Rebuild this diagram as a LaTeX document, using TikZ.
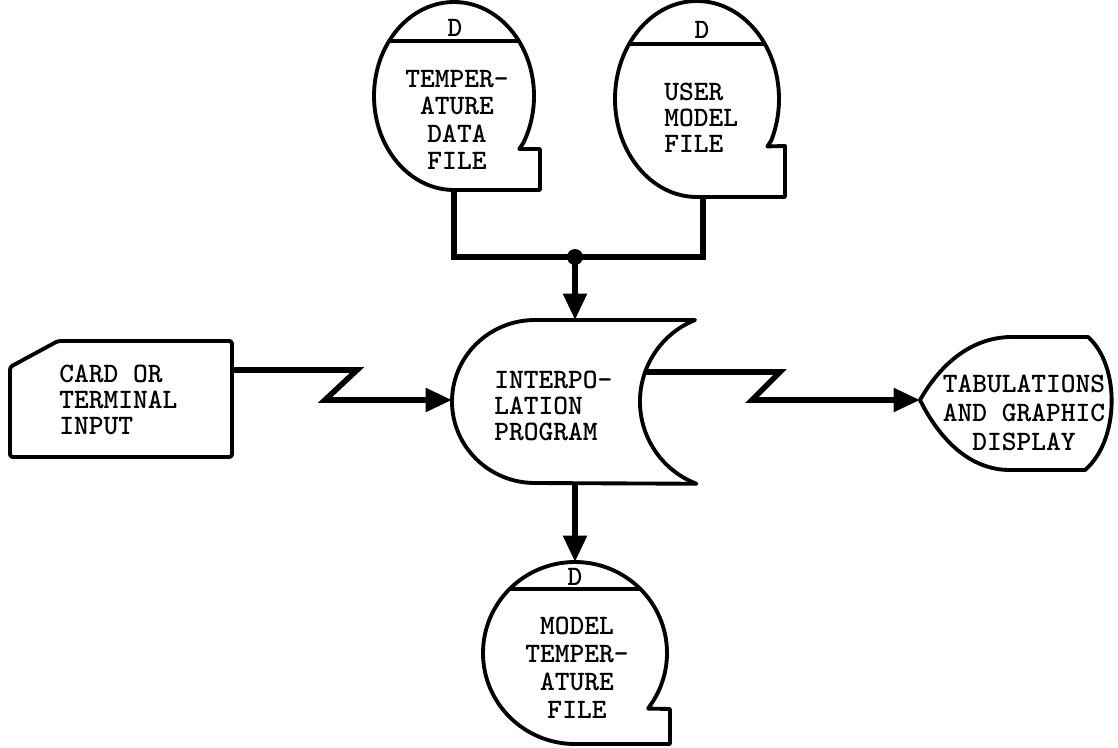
\documentclass[tikz,border=0pt]{standalone}
\usepackage{fontspec}
\newfontfamily\dfont{lmmonolt10-bold}[Extension=.otf]
\usetikzlibrary{arrows.meta}
\begin{document}
\begin{tikzpicture}[x=0.02cm,y=-0.02cm,
  outline/.style={line width=2.2pt, line join=round},
  flow/.style={line width=3.2pt, line join=miter},
  arr/.style={flow,-{Triangle[length=15pt,width=13pt]}},
  txt/.style={inner sep=0pt, font=\dfont\fontsize{16}{#1}\selectfont},
  txt/.default=15pt]
\fill[white] (0,0) rectangle (1118,747);
\useasboundingbox (0,0) rectangle (1118,747);

% anchor coordinates
\coordinate (tdfB) at (454,190);
\coordinate (umfB) at (703,197);
\coordinate (junc) at (575,257);
\coordinate (progN) at (575,320);
\coordinate (progS) at (575,483);
\coordinate (progW) at (452,400);
\coordinate (progE) at (645,372);
\coordinate (cardE) at (232,370);
\coordinate (dispW) at (920,400);
\coordinate (mtfN) at (575,562);

% top-left disk: temperature data file
\draw[outline] (454,190) arc[start angle=90,end angle=390,x radius=80,y radius=94]
  -- ++(-4,6) -- (540,149) -- (540,190) -- cycle;
\begin{scope}
  \clip (454,96) ellipse[x radius=80,y radius=94];
  \draw[outline] (300,41) -- (600,41);
\end{scope}
\node[txt] (tdfD) at (455,28) {D};
\node[txt=15.6pt, align=center] (tdfT) at (457,120) {TEMPER-\\ATURE\\DATA\\FILE};

% top-right disk: user model file
\draw[outline] (697,197) arc[start angle=90,end angle=385,x radius=82,y radius=98]
  -- ++(-4,6) -- (785,146) -- (785,197) -- cycle;
\begin{scope}
  \clip (697,99) ellipse[x radius=82,y radius=98];
  \draw[outline] (550,44) -- (850,44);
\end{scope}
\node[txt] (umfD) at (702,30) {D};
\node[txt=14.8pt, align=left, anchor=west] (umfT) at (664,118) {USER\\MODEL\\FILE};

% bottom disk: model temperature file
\draw[outline] (575,744) arc[start angle=90,end angle=393,x radius=92,y radius=91]
  -- ++(-4,6) -- (670,709) -- (670,744) -- cycle;
\begin{scope}
  \clip (575,653) ellipse[x radius=92,y radius=91];
  \draw[outline] (450,589) -- (700,589);
\end{scope}
\node[txt] (mtfD) at (575,577) {D};
\node[txt=16pt, align=center] (mtfT) at (577,668) {MODEL\\TEMPER-\\ATURE\\FILE};

% interpolation program
\draw[outline] (535,320) -- (695,320) arc[start angle=248,end angle=111,radius=88]
  -- (535,483) arc[start angle=90,end angle=270,x radius=83,y radius=81.5] -- cycle;
\node[txt=14.8pt, align=left, anchor=west] (progT) at (494,406) {INTERPO-\\LATION\\PROGRAM};

% card or terminal input
\draw[outline, rounded corners=1.5pt] (10,367) -- (58,341) -- (232,341) -- (232,457) -- (10,457) -- cycle;
\node[txt=14.8pt, align=left, anchor=west] (cardT) at (59,400) {CARD OR\\TERMINAL\\INPUT};

% display
\draw[outline] (dispW) .. controls (940,365) and (970,338) .. (1010,337) -- (1088,337)
  .. controls (1120,365) and (1120,440) .. (1085,470) -- (1010,470)
  .. controls (970,470) and (940,440) .. (dispW) -- cycle;
\node[txt=16.4pt, align=center] (dispT) at (1024,413) {TABULATIONS\\AND GRAPHIC\\DISPLAY};

% connectors
\draw[flow] (tdfB) -- (tdfB |- junc) -- (umfB |- junc) -- (umfB);
\fill (junc) circle[radius=8];
\draw[arr] (junc) -- (progN);
\draw[arr] (cardE) -- (357,370) -- (325,400) -- (progW);
\draw[arr] (progE) -- (780,372) -- (752,400) -- (dispW);
\draw[arr] (progS) -- (mtfN);
\end{tikzpicture}
\end{document}
